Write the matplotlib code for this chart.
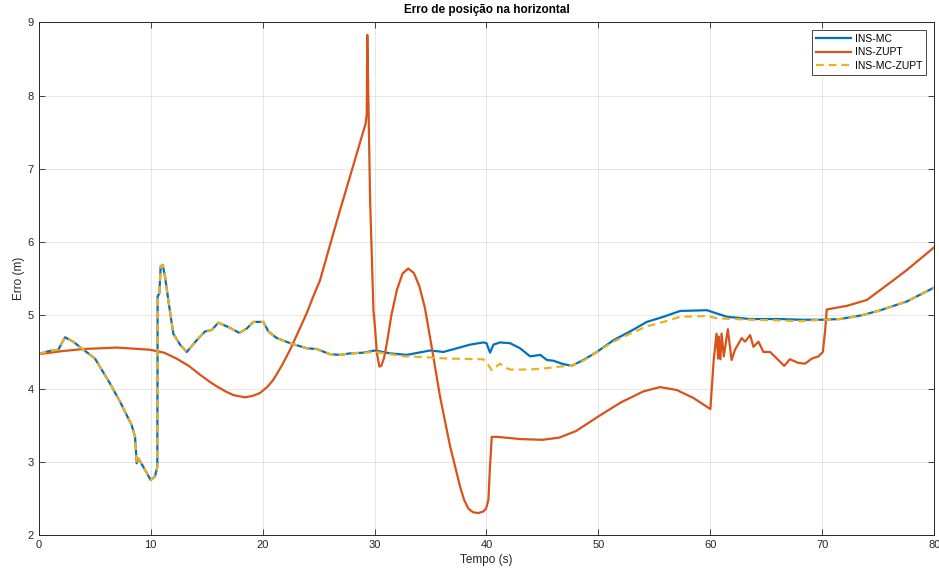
import matplotlib.pyplot as plt

plt.rcParams['font.family'] = ['Liberation Sans', 'DejaVu Sans']

# INS-MC (azul)
mc_t = [0.0, 0.85, 1.74, 2.34, 3.08, 3.83, 5.02, 6.36, 7.26, 8.30, 8.60, 8.75, 8.89,
        9.49, 10.0, 10.38, 10.59, 10.62, 10.77, 10.89, 11.07, 11.28, 11.57, 12.02, 12.62,
        13.22, 14.11, 14.85, 15.45, 16.04, 16.94, 17.92, 18.58, 19.17, 20.06, 20.51, 21.26,
        22.45, 23.94, 24.83, 26.0, 26.9, 27.8, 28.97, 30.04, 31.4, 32.88, 34.96, 36.15,
        37.35, 38.53, 39.72, 40.0, 40.32, 40.62, 41.2, 42.1, 43.0, 43.9, 44.8, 45.4,
        45.98, 46.73, 47.6, 48.66, 49.86, 51.34, 52.83, 54.32, 55.8, 57.3, 59.7, 60.28,
        61.5, 63.55, 66.2, 68.0, 70.0, 71.6, 73.5, 75.2, 77.56, 80.0]
mc_e = [4.47, 4.51, 4.53, 4.70, 4.64, 4.55, 4.41, 4.07, 3.82, 3.50, 3.34, 2.98, 3.05,
        2.89, 2.75, 2.80, 2.93, 5.26, 5.30, 5.67, 5.69, 5.53, 5.21, 4.75, 4.60,
        4.50, 4.66, 4.78, 4.80, 4.90, 4.84, 4.76, 4.82, 4.91, 4.91, 4.78, 4.69,
        4.62, 4.55, 4.54, 4.47, 4.46, 4.48, 4.49, 4.52, 4.48, 4.46, 4.52, 4.50,
        4.55, 4.60, 4.63, 4.62, 4.49, 4.60, 4.63, 4.62, 4.55, 4.44, 4.46, 4.39,
        4.38, 4.34, 4.31, 4.39, 4.50, 4.66, 4.78, 4.91, 4.98, 5.06, 5.07, 5.04,
        4.98, 4.95, 4.95, 4.94, 4.94, 4.95, 5.00, 5.07, 5.19, 5.38]

# INS-MC-ZUPT (amarelo tracejado): igual ao INS-MC até ~29 s
n0 = mc_t.index(28.97) + 1
mczupt_t = mc_t[:n0] + [30.0, 31.4, 32.6, 34.4, 36.45, 39.72, 40.0, 40.47, 41.2, 41.8,
                        42.1, 43.9, 45.4, 47.2, 47.6, 48.66, 49.86, 51.34, 52.83, 54.32,
                        55.8, 57.3, 59.7, 60.6, 63.55, 66.2, 68.0, 70.0, 71.6, 73.5,
                        75.2, 77.56, 80.0]
mczupt_e = mc_e[:n0] + [4.50, 4.47, 4.44, 4.43, 4.41, 4.40, 4.36, 4.25, 4.34, 4.28,
                        4.26, 4.26, 4.28, 4.31, 4.31, 4.38, 4.50, 4.64, 4.75, 4.85,
                        4.91, 4.98, 4.99, 4.96, 4.94, 4.93, 4.92, 4.94, 4.95, 5.00,
                        5.07, 5.19, 5.38]

# INS-ZUPT (laranja)
zupt_t = [0.0, 2.0, 3.98, 6.96, 9.94, 11.2, 12.3, 13.4, 14.4, 15.2, 15.9, 16.7, 17.4,
          18.43, 19.1, 19.77, 20.4, 20.96, 21.7, 22.45, 23.2, 23.94, 24.5, 25.13, 26.0,
          26.9, 28.2, 29.2, 29.3, 29.35, 29.6, 29.9, 30.04, 30.2, 30.43, 30.6, 30.85,
          31.1, 31.5, 32.0, 32.5, 33.0, 33.5, 34.0, 34.5, 35.0, 35.85, 36.75, 37.64,
          38.0, 38.38, 38.8, 39.28, 39.7, 39.96, 40.17, 40.3, 40.47, 41.0, 43.0, 45.0,
          46.5, 48.0, 50.0, 52.0, 54.0, 55.5, 57.0, 58.5, 60.0, 60.3, 60.55, 60.7,
          60.73, 60.9, 61.0, 61.2, 61.56, 61.9, 62.2, 62.8, 63.1, 63.55, 63.85, 64.3,
          64.74, 65.34, 65.94, 66.6, 67.1, 67.87, 68.47, 69.07, 69.66, 70.05, 70.26, 70.4,
          72.2, 73.98, 76.36, 77.56, 80.0]
zupt_e = [4.47, 4.51, 4.54, 4.56, 4.53, 4.49, 4.41, 4.31, 4.19, 4.10, 4.03, 3.96, 3.91,
          3.88, 3.90, 3.94, 4.02, 4.12, 4.31, 4.53, 4.78, 5.03, 5.25, 5.48, 5.95,
          6.43, 7.10, 7.62, 7.75, 8.83, 6.58, 5.07, 4.83, 4.49, 4.30, 4.31, 4.42,
          4.62, 5.00, 5.35, 5.57, 5.64, 5.58, 5.40, 5.10, 4.66, 3.89, 3.21, 2.66,
          2.48, 2.36, 2.31, 2.30, 2.32, 2.36, 2.48, 2.90, 3.34, 3.34, 3.31, 3.30,
          3.33, 3.42, 3.62, 3.81, 3.96, 4.02, 3.98, 3.87, 3.72, 4.39, 4.75, 4.41,
          4.71, 4.40, 4.75, 4.44, 4.81, 4.39, 4.53, 4.69, 4.64, 4.73, 4.57, 4.64,
          4.50, 4.50, 4.41, 4.31, 4.40, 4.35, 4.34, 4.41, 4.44, 4.50, 4.80, 5.08,
          5.13, 5.21, 5.48, 5.62, 5.93]

fig = plt.figure(figsize=(9.39, 5.72), dpi=100)
ax = fig.add_axes([0.0413, 0.0647, 0.9536, 0.896])

ax.plot(mc_t, mc_e, color='#0072BD', lw=1.6, label='INS-MC')
ax.plot(zupt_t, zupt_e, color='#D95319', lw=1.6, label='INS-ZUPT')
ax.plot(mczupt_t, mczupt_e, color='#EDB120', lw=1.6, ls=(0, (3.5, 2.2)), label='INS-MC-ZUPT')

ax.set_xlim(0, 80)
ax.set_ylim(2, 9)
ax.set_xticks(range(0, 81, 10))
ax.set_yticks(range(2, 10))
ax.grid(True, color='#262626', alpha=0.13, lw=0.6)
ax.tick_params(direction='in', top=True, right=True, labelsize=8, colors='#262626', length=4, width=0.6)
for s in ax.spines.values():
    s.set_color('#262626')
    s.set_linewidth(0.7)

ax.set_title('Erro de posição na horizontal', fontsize=8.5, fontweight='bold', pad=7)
ax.set_xlabel('Tempo (s)', fontsize=8.5, color='#262626', labelpad=3)
ax.set_ylabel('Erro (m)', fontsize=8.5, color='#262626', labelpad=2)

leg = ax.legend(loc='upper right', bbox_to_anchor=(0.991, 0.986), borderaxespad=0,
                fontsize=7.5, fancybox=False, framealpha=1, handlelength=3.4,
                handletextpad=0.3, labelspacing=0.35, borderpad=0.4)
leg.get_frame().set_edgecolor('#262626')
leg.get_frame().set_linewidth(0.6)

fig.savefig('out.png', dpi=100)
